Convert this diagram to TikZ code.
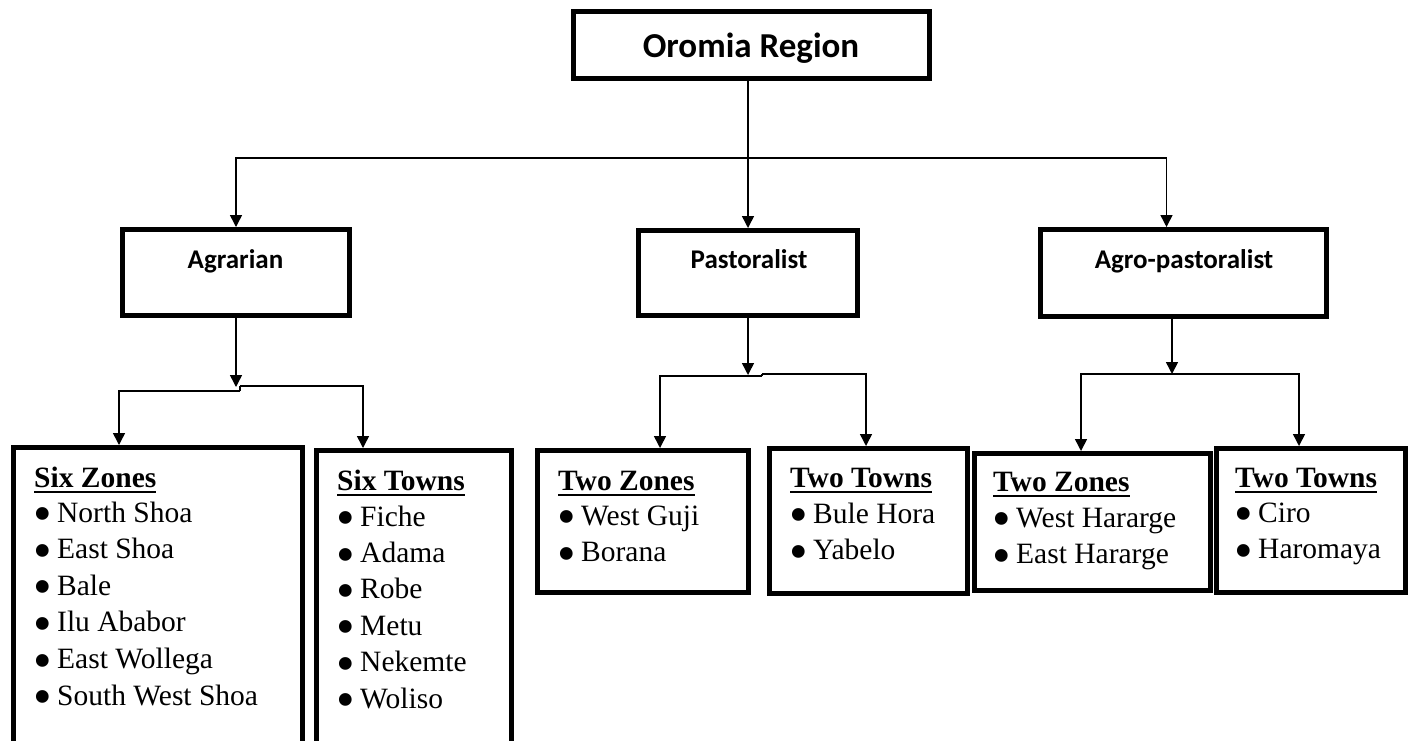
\documentclass[tikz,border=0pt]{standalone}
\usepackage{fontspec}
\setmainfont{Liberation Serif}
\newfontfamily\calfont{Carlito}
\usetikzlibrary{arrows.meta}
\newcommand\myul[1]{\setbox0\hbox{#1}\rlap{\rule[-5.5pt]{\wd0}{1.8pt}}\box0}
\newcommand\bul[1]{\makebox[23.9pt][l]{\raisebox{-9.7pt}{\scalebox{1.8}{\textbullet}}}#1}
\begin{document}
\begin{tikzpicture}[x=1pt,y=-1pt,
  box/.style={draw,line width=5pt,inner sep=0pt},
  conn/.style={line width=1.5pt},
  arr/.style={conn,-{Triangle[length=12pt,width=12pt]}},
  lvl/.style={font=\calfont\bfseries\fontsize{27}{32}\selectfont,anchor=base,inner sep=0pt},
  ttl/.style={font=\calfont\bfseries\fontsize{35}{40}\selectfont,anchor=base,inner sep=0pt},
  txt/.style={font=\fontsize{29.5}{36}\selectfont,anchor=base west,inner sep=0pt},
  hd/.style={txt,font=\bfseries\fontsize{29.5}{36}\selectfont}]
\useasboundingbox (0,0) rectangle (1415,740);
% boxes
\node[box,minimum width=356pt,minimum height=67pt] (top) at (751.5,45) {};
\node[box,minimum width=227pt,minimum height=86pt] (agr) at (236,272.5) {};
\node[box,minimum width=219pt,minimum height=85pt] (past) at (748,273) {};
\node[box,minimum width=286pt,minimum height=87pt] (agro) at (1183.5,273) {};
\node[box,minimum width=289pt,minimum height=330pt] (sixz) at (158,612.5) {};
\node[box,minimum width=195pt,minimum height=327pt] (sixt) at (414,614) {};
\node[box,minimum width=211pt,minimum height=142pt] (twoz1) at (643,521.5) {};
\node[box,minimum width=198pt,minimum height=145pt] (twot1) at (868.5,521) {};
\node[box,minimum width=236pt,minimum height=137pt] (twoz2) at (1092.5,522) {};
\node[box,minimum width=189pt,minimum height=144pt] (twot2) at (1311,520.5) {};
% box titles
\node[ttl] (topt) at (751,57) {Oromia Region};
\node[lvl] (agrt) at (235.5,268) {Agrarian};
\node[lvl] (pastt) at (749,268) {Pastoralist};
\node[lvl] (agrot) at (1184,268) {Agro-pastoralist};
% lists
\node[hd] (sixzh) at (34,487) {\myul{Six Zones}};
\foreach \t [count=\i] in {North Shoa,East Shoa,Bale,Ilu Ababor,East Wollega,South West Shoa}
  \node[txt] (sixz\i) at (33.1,{485.4+36.6*\i}) {\bul{\t}};
\node[hd] (sixth) at (337,490) {\myul{Six Towns}};
\foreach \t [count=\i] in {Fiche,Adama,Robe,Metu,Nekemte,Woliso}
  \node[txt] (sixt\i) at (336.1,{489.6+36.4*\i}) {\bul{\t}};
\node[hd] (twoz1h) at (558,490) {\myul{Two Zones}};
\foreach \t [count=\i] in {West Guji,Borana}
  \node[txt] (twoz1\i) at (557.1,{488.4+36.6*\i}) {\bul{\t}};
\node[hd] (twot1h) at (790,487) {\myul{Two Towns}};
\foreach \t [count=\i] in {Bule Hora,Yabelo}
  \node[txt] (twot1\i) at (789.1,{486.4+36.6*\i}) {\bul{\t}};
\node[hd] (twoz2h) at (993,491) {\myul{Two Zones}};
\foreach \t [count=\i] in {West Hararge,East Hararge}
  \node[txt] (twoz2\i) at (992.1,{490.4+36.6*\i}) {\bul{\t}};
\node[hd] (twot2h) at (1235,487) {\myul{Two Towns}};
\foreach \t [count=\i] in {Ciro,Haromaya}
  \node[txt] (twot2\i) at (1234.1,{485.4+36.6*\i}) {\bul{\t}};
% connectors level 1
\coordinate (h1) at (748,158);
\draw[arr] (top.south -| past.north) -- (past.north);
\draw[arr] (h1) -| (agr.north);
\draw[arr] (h1) -| ([xshift=-17pt]agro.north);
% agrarian
\coordinate (aj) at (236,387);
\coordinate (al) at (119,391);
\coordinate (am1) at (240,391);
\coordinate (am2) at (240,386);
\coordinate (ar) at (363,386);
\draw[arr] (agr.south) -- (aj);
\draw[conn] (am1) -- (am2);
\draw[arr] (am1) -- (al) -- (sixz.north -| al);
\draw[arr] (am2) -- (ar) -- (sixt.north -| ar);
% pastoralist
\coordinate (pj) at (748,375);
\coordinate (pl) at (660,376);
\coordinate (pm1) at (762,376);
\coordinate (pm2) at (762,374);
\coordinate (pr) at (866,374);
\draw[arr] (past.south) -- (pj);
\draw[conn] (pm1) -- (pm2);
\draw[arr] (pm1) -- (pl) -- (twoz1.north -| pl);
\draw[arr] (pm2) -- (pr) -- (twot1.north -| pr);
% agro-pastoralist
\coordinate (gj) at (1172,374);
\coordinate (gl) at (1081,374);
\coordinate (gr) at (1299,374);
\draw[arr] ([xshift=-11.5pt]agro.south) -- (gj);
\draw[arr] (gj) -- (gl) -- (twoz2.north -| gl);
\draw[arr] (gj) -- (gr) -- (twot2.north -| gr);
\end{tikzpicture}
\end{document}
